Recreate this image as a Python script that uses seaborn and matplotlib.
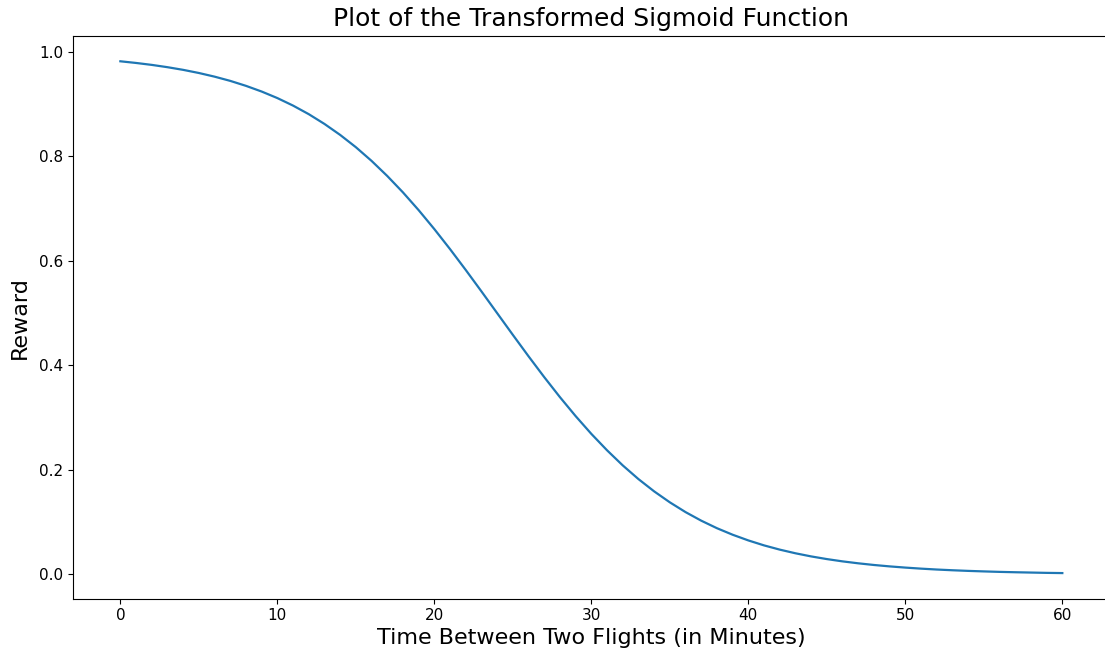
import matplotlib
matplotlib.use("Agg")
import matplotlib.pyplot as plt
import seaborn as sns
import pandas as pd

minutes = list(range(0, 61))
reward = [0.9820, 0.9788, 0.9751, 0.9707, 0.9656, 0.9596, 0.9526, 0.9445,
          0.9350, 0.9241, 0.9116, 0.8972, 0.8808, 0.8621, 0.8411, 0.8176,
          0.7914, 0.7625, 0.7311, 0.6971, 0.6608, 0.6225, 0.5826, 0.5416,
          0.5000, 0.4584, 0.4174, 0.3775, 0.3392, 0.3029, 0.2689, 0.2375,
          0.2086, 0.1824, 0.1589, 0.1379, 0.1192, 0.1028, 0.0884, 0.0759,
          0.0650, 0.0555, 0.0474, 0.0404, 0.0344, 0.0293, 0.0249, 0.0212,
          0.0180, 0.0153, 0.0130, 0.0110, 0.0093, 0.0079, 0.0067, 0.0057,
          0.0048, 0.0041, 0.0035, 0.0029, 0.0025]

df = pd.DataFrame({"minutes": minutes, "reward": reward})

plt.rcParams['font.family'] = ['DejaVu Sans']

fig, ax = plt.subplots(figsize=(11.05, 6.55), dpi=100)
fig.subplots_adjust(left=0.0663, right=1.004, top=0.9455, bottom=0.086)

sns.lineplot(data=df, x="minutes", y="reward", ax=ax, color="#1f77b4", linewidth=1.6)

ax.set_title("Plot of the Transformed Sigmoid Function", fontsize=18, pad=7)
ax.set_xlabel("Time Between Two Flights (in Minutes)", fontsize=16, labelpad=3)
ax.set_ylabel("Reward", fontsize=16, labelpad=7)
ax.tick_params(labelsize=11)
ax.set_xticks([0, 10, 20, 30, 40, 50, 60])
ax.set_yticks([0.0, 0.2, 0.4, 0.6, 0.8, 1.0])

fig.savefig("out.png", dpi=100)
